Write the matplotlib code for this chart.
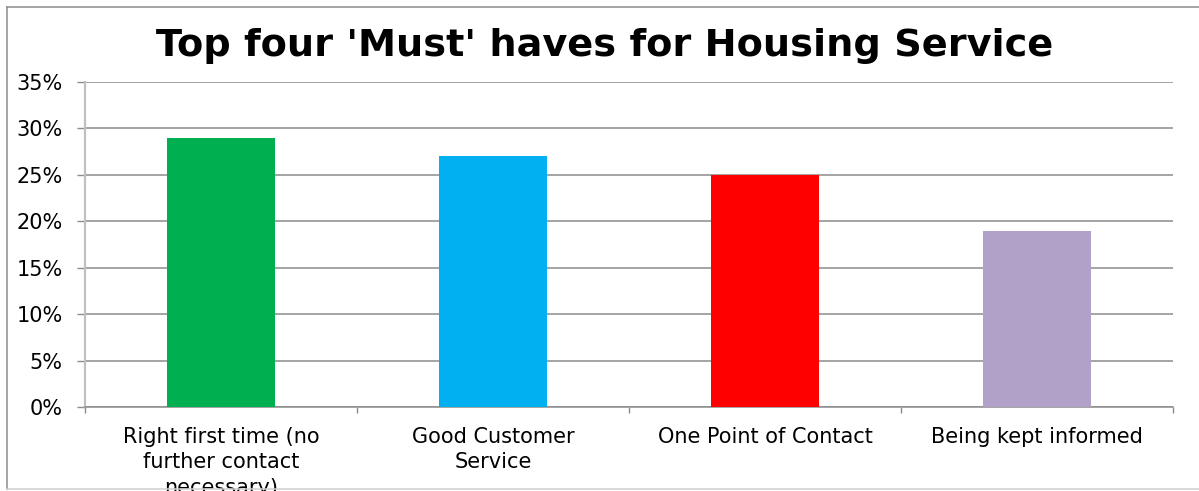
import matplotlib
matplotlib.use("Agg")
import matplotlib.pyplot as plt
from matplotlib.lines import Line2D

categories = [
    "Right first time (no\nfurther contact\nnecessary)",
    "Good Customer\nService",
    "One Point of Contact",
    "Being kept informed",
]
values = [29, 27, 25, 19]
colors = ["#00B050", "#00B0F0", "#FF0000", "#B1A0C7"]
yticks = [0, 5, 10, 15, 20, 25, 30, 35]
title = "Top four 'Must' haves for Housing Service"

plt.rcParams["font.family"] = ["DejaVu Sans"]

W, H = 1199, 491
fig = plt.figure(figsize=(W / 100, H / 100), dpi=100)
ax = fig.add_axes([85 / W, 1 - 407 / H, (1173 - 85) / W, (407 - 82) / H])

x = list(range(len(categories)))
ax.bar(x, values, width=0.4, color=colors, zorder=3)

ax.set_xlim(-0.5, len(categories) - 0.5)
ax.set_ylim(0, 35)
ax.set_yticks(yticks)
ax.set_yticklabels([f"{v}%" for v in yticks], fontsize=15)
ax.yaxis.grid(True, color="#8c8c8c", linewidth=1.1, zorder=0)

ax.set_xticks([i - 0.5 for i in range(len(categories) + 1)])
ax.set_xticklabels([])
ax.tick_params(axis="x", direction="out", length=4, color="#8c8c8c", width=1)
ax.tick_params(axis="y", direction="out", length=6, color="#8c8c8c", width=1, pad=10)

for side in ("top", "right"):
    ax.spines[side].set_visible(False)
ax.spines["left"].set_color("#c0c0c0")
ax.spines["left"].set_linewidth(1.6)
ax.spines["bottom"].set_color("#8c8c8c")
ax.spines["bottom"].set_linewidth(1.1)

for xi, label in zip(x, categories):
    ax.text(xi, 1 - (427 - 82) / (407 - 82), label, transform=ax.get_xaxis_transform(),
            ha="center", va="top", fontsize=15, linespacing=1.33)

fig.text(0.5 * (155 + 1055) / W, 1 - 46 / H, title, ha="center", va="center",
         fontsize=27.5, fontweight="bold")

# outer frame of the chart area
fc = "#8c8c8c"
fig.add_artist(Line2D([7 / W, 1], [1 - 7 / H, 1 - 7 / H], color=fc, lw=1.1, transform=fig.transFigure))
fig.add_artist(Line2D([7 / W, 7 / W], [1 - 7 / H, 1 - 489 / H], color=fc, lw=1.1, transform=fig.transFigure))
fig.add_artist(Line2D([7 / W, 1], [1 - 489 / H, 1 - 489 / H], color="#d0d0d0", lw=1.1, transform=fig.transFigure))

fig.savefig("out.png", dpi=100)
